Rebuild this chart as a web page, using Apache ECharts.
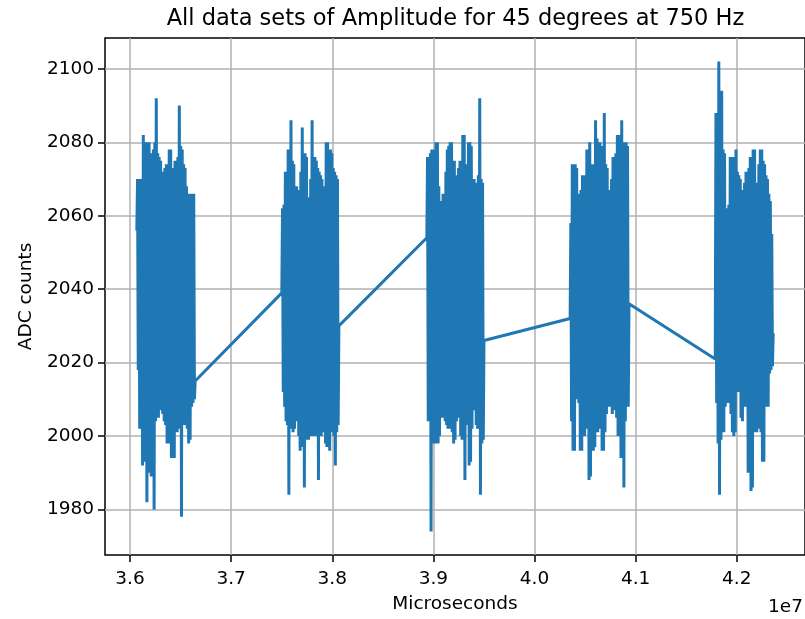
<!DOCTYPE html>
<html lang="en">
<head>
<meta charset="UTF-8">
<title>All data sets of Amplitude for 45 degrees at 750 Hz</title>
<script src="https://cdn.jsdelivr.net/npm/echarts@6/dist/echarts.min.js"></script>
<style>
    html, body, #chart {
        width: 100%;
        height: 100%;
        margin: 0;
        padding: 0;
        background: #fff;
    }
</style>
</head>
<body>
<div id="chart"></div>
<script>
    // start / end time (microseconds) of each recorded data set
    var blockStart = [36067000, 37501000, 38935000, 40352000, 41787000];
    var blockEnd = [36644000, 38065000, 39500000, 40934000, 42360000];

    // ADC counts of each data set
    var block1 = [2056,
        2070, 2018, 2070, 2002, 2069, 2008, 2070, 1992, 2082, 1993,
        2080, 2004, 2080, 1982, 2079, 2000, 2080, 1990, 2077, 1989,
        2076, 2004, 2078, 1980, 2080, 2004, 2092, 2006, 2077, 2005,
        2076, 2007, 2075, 2008, 2072, 2006, 2070, 2004, 2073, 2003,
        2074, 1998, 2072, 1999, 2078, 1998, 2078, 1994, 2073, 1995,
        2071, 1994, 2075, 2002, 2074, 2001, 2076, 2002, 2090, 2003,
        2079, 1978, 2078, 2005, 2074, 2003, 2073, 2007, 2068, 2002,
        2066, 1998, 2066, 1999, 2066, 2008, 2066, 2009, 2066, 2010,
        2015];
    var block2 = [2039,
        2062, 2012, 2063, 2008, 2072, 2004, 2072, 2003, 2078, 1984,
        2078, 2002, 2086, 2003, 2075, 2001, 2074, 2002, 2068, 2005,
        2068, 2004, 2067, 2000, 2067, 1996, 2072, 1997, 2084, 2003,
        2077, 1986, 2077, 1999, 2076, 2000, 2065, 1999, 2064, 2000,
        2070, 2001, 2086, 2000, 2076, 2001, 2076, 2000, 2075, 2002,
        2073, 1988, 2072, 2001, 2071, 2000, 2070, 2001, 2066, 2002,
        2068, 1998, 2080, 1997, 2080, 1998, 2078, 1996, 2078, 2001,
        2077, 2002, 2073, 2000, 2072, 1992, 2071, 2001, 2070, 2003,
        2030];
    var block3 = [2054,
        2076, 2004, 2076, 2004, 2077, 1974, 2078, 1998, 2078, 1999,
        2072, 1998, 2080, 1999, 2080, 1998, 2068, 2000, 2064, 2006,
        2063, 2005, 2066, 2006, 2066, 2004, 2072, 2003, 2078, 2002,
        2079, 2002, 2080, 2003, 2080, 2001, 2074, 1998, 2075, 1999,
        2071, 2004, 2070, 2006, 2073, 2005, 2075, 2000, 2075, 1999,
        2082, 2002, 2082, 1988, 2074, 2003, 2074, 2004, 2080, 1992,
        2080, 1993, 2079, 2002, 2070, 2007, 2070, 2008, 2069, 2003,
        2068, 2002, 2071, 2004, 2092, 1984, 2070, 1998, 2069, 1999,
        2026];
    var block4 = [2032,
        2058, 2004, 2074, 1996, 2074, 1996, 2074, 2010, 2073, 2010,
        2066, 2009, 2066, 1996, 2067, 1996, 2071, 2001, 2071, 2000,
        2070, 2002, 2078, 2003, 2078, 1988, 2080, 1989, 2074, 2003,
        2074, 1996, 2073, 1997, 2086, 2002, 2081, 2001, 2080, 2002,
        2080, 2003, 2079, 1996, 2078, 1996, 2088, 2001, 2074, 2006,
        2073, 2008, 2067, 2009, 2067, 2008, 2070, 2006, 2076, 2007,
        2076, 2008, 2077, 2005, 2082, 2000, 2082, 2001, 2081, 1994,
        2086, 1994, 2080, 1986, 2080, 2004, 2080, 2008, 2079, 2008,
        2036];
    var block5 = [2021,
        2088, 2009, 2088, 1998, 2102, 1984, 2094, 1999, 2094, 2002,
        2078, 2001, 2077, 2008, 2062, 2010, 2062, 2009, 2063, 2010,
        2076, 2006, 2076, 2001, 2075, 2000, 2076, 2001, 2078, 2012,
        2072, 2013, 2071, 2012, 2070, 2005, 2066, 2004, 2067, 2009,
        2069, 2008, 2072, 2008, 2072, 1990, 2073, 2002, 2076, 1985,
        2076, 1986, 2078, 2001, 2078, 2002, 2069, 2001, 2069, 2003,
        2074, 2002, 2078, 2001, 2078, 1993, 2075, 1993, 2074, 2008,
        2071, 2009, 2070, 2008, 2066, 2017, 2064, 2018, 2055, 2019,
        2028];

    var xTicks = [36000000, 37000000, 38000000, 39000000, 40000000, 41000000, 42000000];
    var yTicks = [1980, 2000, 2020, 2040, 2060, 2080, 2100];

    var font = "DejaVu Sans";

    // samples are evenly spaced inside each data set
    var points = [];
    [block1, block2, block3, block4, block5].forEach(function (vals, b) {
        var step = (blockEnd[b] - blockStart[b]) / (vals.length - 1);
        vals.forEach(function (v, i) {
            points.push([blockStart[b] + i * step, v]);
        });
    });

    var myChart = echarts.init(document.getElementById("chart"), null, {renderer: "canvas"});

    myChart.setOption({
        animation: false,
        backgroundColor: "#fff",
        grid: {
            left: 105,
            right: -1,
            top: 38,
            bottom: 59.5,
            show: true,
            borderColor: "#000",
            borderWidth: 1.5
        },
        graphic: [{
            type: "text",
            x: 455.5,
            y: 19,
            style: {
                text: "All data sets of Amplitude for 45 degrees at 750 Hz",
                font: "22.5px " + font,
                fill: "#000",
                align: "center",
                verticalAlign: "middle"
            }
        }, {
            type: "text",
            x: 803,
            y: 607,
            style: {
                text: "1e7",
                font: "18.5px " + font,
                fill: "#000",
                align: "right",
                verticalAlign: "middle"
            }
        }],
        xAxis: {
            type: "value",
            min: 35752350,
            max: 42674650,
            name: "Microseconds",
            nameLocation: "middle",
            nameGap: 40,
            nameTextStyle: {color: "#000", fontSize: 18.5, fontFamily: font},
            axisLine: {show: false},
            axisTick: {
                show: true,
                length: 7,
                customValues: xTicks,
                lineStyle: {color: "#000", width: 1.5}
            },
            axisLabel: {
                customValues: xTicks,
                margin: 15,
                color: "#000",
                fontSize: 18.5,
                fontFamily: font,
                formatter: function (v) {
                    return (v / 1e7).toFixed(1);
                }
            },
            splitLine: {show: true, lineStyle: {color: "#b0b0b0", width: 1.5}}
        },
        yAxis: {
            type: "value",
            min: 1967.6,
            max: 2108.4,
            name: "ADC counts",
            nameLocation: "middle",
            nameGap: 68,
            nameTextStyle: {color: "#000", fontSize: 18.5, fontFamily: font},
            axisLine: {show: false},
            axisTick: {
                show: true,
                length: 7,
                customValues: yTicks,
                lineStyle: {color: "#000", width: 1.5}
            },
            axisLabel: {
                customValues: yTicks,
                margin: 11,
                color: "#000",
                fontSize: 18.5,
                fontFamily: font,
                formatter: function (v) {
                    return String(v);
                }
            },
            splitLine: {show: true, lineStyle: {color: "#b0b0b0", width: 1.5}}
        },
        series: [{
            type: "line",
            data: points,
            showSymbol: false,
            symbol: "none",
            silent: true,
            sampling: null,
            lineStyle: {color: "#1f77b4", width: 3}
        }]
    });
</script>
</body>
</html>
